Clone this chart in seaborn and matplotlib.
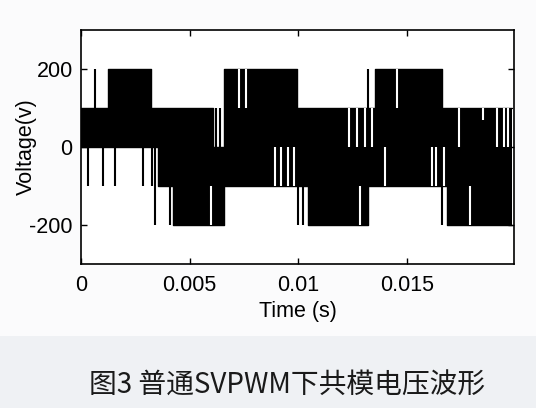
import numpy as np
import pandas as pd
import matplotlib
matplotlib.use("Agg")
import matplotlib.pyplot as plt
from matplotlib.patches import Rectangle
import seaborn as sns

# ---------------- data ----------------
# envelope of the common-mode voltage switching band: segment start times (s)
band_t  = [0.0, 0.00124, 0.00322, 0.00354, 0.00423, 0.00607, 0.00658,
           0.00994, 0.01044, 0.01320, 0.01352, 0.01661, 0.01684, 0.01983]
band_hi = [100, 200, 100, 100, 100, 0, 200, 100, 100, 100, 200, 100, 100, 100]
band_lo = [0, 0, 0, -100, -200, -200, -100, -100, -200, -100, -100, -100, -200, -200]

# isolated switching pulses that stick out of the band
spike_t  = [0.00032, 0.00064, 0.00101, 0.00156, 0.00285, 0.00327, 0.00340,
            0.00409, 0.00621, 0.00639, 0.00998, 0.01021, 0.01320, 0.01661]
spike_lo = [-100, 100, -100, -100, -100, -100, -200,
            -200, 0, 0, -200, -200, 100, -200]
spike_hi = [0, 200, 0, 0, 0, 0, 0,
            -100, 100, 100, -100, -100, 200, -100]

# narrow gaps inside the band (no switching to that level)
gap_t  = [0.00598, 0.00727, 0.00759, 0.00892, 0.00920, 0.00952, 0.00980,
          0.01233, 0.01270, 0.01283, 0.01306, 0.01339, 0.01398, 0.01454,
          0.01615, 0.01633, 0.01672, 0.01739, 0.01789, 0.01849, 0.01914,
          0.01945, 0.01965]
gap_lo = [-200, 100, 100, -100, -100, -100, -100,
          0, 0, -200, 0, 0, -100, 100,
          -100, -100, -100, 0, -200, 70, 0,
          0, 0]
gap_hi = [-100, 200, 200, 0, 0, 0, 0,
          100, 100, -100, 100, 100, 0, 200,
          0, 0, 0, 100, -100, 100, 100,
          100, 100]

x_ticks = [0, 0.005, 0.01, 0.015]
x_tick_labels = ["0", "0.005", "0.01", "0.015"]
y_ticks = [-200, 0, 200]
y_tick_labels = ["-200", "0", "200"]

caption = "图3 普通SVPWM下共模电压波形"

# ---------------- style ----------------
sns.set_style("white")
plt.rcParams["font.family"] = ["Liberation Sans", "Noto Sans CJK SC", "DejaVu Sans"]

W, H = 536, 408
fig = plt.figure(figsize=(W / 100, H / 100), dpi=100, facecolor="#fbfbfc")

# light grey caption strip
fig.patches.append(Rectangle((0, 0), 1, (408 - 336) / 408, transform=fig.transFigure,
                             facecolor="#eff1f4", edgecolor="none", zorder=0))

ax = fig.add_axes([81 / W, 1 - 264 / H, (514 - 81) / W, (264 - 30) / H])
ax.set_facecolor("white")

df = pd.DataFrame({"t": band_t, "hi": band_hi, "lo": band_lo})
ax.fill_between(df["t"], df["lo"], df["hi"], step="post", color="black", linewidth=0)
sns.lineplot(data=df, x="t", y="hi", ax=ax, color="black", linewidth=1.0,
             drawstyle="steps-post", estimator=None, sort=False)
sns.lineplot(data=df, x="t", y="lo", ax=ax, color="black", linewidth=1.0,
             drawstyle="steps-post", estimator=None, sort=False)

ax.vlines(spike_t, spike_lo, spike_hi, color="black", linewidth=1.5)
ax.vlines(gap_t, gap_lo, gap_hi, color="white", linewidth=1.5)

ax.set_xlim(0, 0.01992)
ax.set_ylim(-300, 300)
ax.set_xticks(x_ticks)
ax.set_xticklabels(x_tick_labels)
ax.set_yticks(y_ticks)
ax.set_yticklabels(y_tick_labels)
ax.tick_params(direction="in", length=4, width=1.0, labelsize=15.5,
               top=True, right=True, bottom=True, left=True, colors="black")
ax.tick_params(axis="x", pad=8)
ax.tick_params(axis="y", pad=6)
for s in ax.spines.values():
    s.set_visible(True)
    s.set_color("black")
    s.set_linewidth(1.2)

ax.set_xlabel("Time (s)", fontsize=15.5, color="black")
ax.set_ylabel("Voltage(v)", fontsize=15.5, color="black")
ax.xaxis.set_label_coords(0.5, (264 - 301) / 234)
ax.yaxis.set_label_coords((37 - 81) / 433, 0.5)

fig.text(287 / W, 1 - 386 / H, caption, ha="center", va="center", fontsize=20,
         color="#1a1a1a", family=["Noto Sans CJK SC", "DejaVu Sans"])

fig.savefig("out.png", dpi=100, facecolor=fig.get_facecolor())
